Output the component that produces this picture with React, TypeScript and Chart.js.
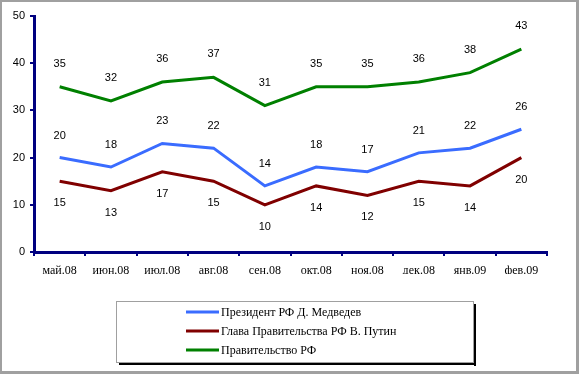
import React, { useEffect, useRef } from 'react';
import { Chart, registerables } from 'chart.js';
Chart.register(...registerables);

const categories = ['май.08', 'июн.08', 'июл.08', 'авг.08', 'сен.08', 'окт.08', 'ноя.08', 'дек.08', 'янв.09', 'фев.09'];
const president = [20, 18, 23, 22, 14, 18, 17, 21, 22, 26];
const putin = [15, 13, 17, 15, 10, 14, 12, 15, 14, 20];
const government = [35, 32, 36, 37, 31, 35, 35, 36, 38, 43];
const seriesLabels = ['Президент РФ Д. Медведев', 'Глава Правительства РФ В. Путин', 'Правительство РФ'];
const seriesColors = ['#3a6cff', '#800000', '#008000'];
const labelOffsets = [-22, 22, -23];
const yMin = 0;
const yMax = 50;
const yStep = 10;

export default function App() {
  const ref = useRef<HTMLCanvasElement>(null);
  useEffect(() => {
    if (!ref.current) return;
    const framePlugin = {
      id: 'frame',
      beforeDraw(chart: any) {
        const ctx = chart.ctx;
        ctx.save();
        ctx.fillStyle = '#ffffff';
        ctx.fillRect(0, 0, chart.width, chart.height);
        ctx.restore();
      },
      afterDraw(chart: any) {
        const ctx = chart.ctx;
        const W = chart.width, H = chart.height;
        ctx.save();
        ctx.fillStyle = '#a0a0a0';
        ctx.fillRect(0, 0, W, 2);
        ctx.fillRect(0, 0, 2, H);
        ctx.fillRect(W - 3, 0, 3, H);
        ctx.fillRect(0, H - 3, W, 3);
        const bx = 116, by = 301, bw = 357, bh = 61;
        ctx.fillStyle = '#000000';
        ctx.fillRect(bx + bw + 1, by + 3, 2, bh + 1);
        ctx.fillRect(bx + 3, by + bh + 1, bw, 2);
        ctx.strokeStyle = '#a0a0a0';
        ctx.lineWidth = 1;
        ctx.strokeRect(bx + 0.5, by + 0.5, bw, bh);
        chart.data.datasets.forEach((ds: any, i: number) => {
          const y = 312 + 19 * i;
          ctx.strokeStyle = ds.borderColor;
          ctx.lineWidth = 3;
          ctx.beginPath();
          ctx.moveTo(186, y);
          ctx.lineTo(219, y);
          ctx.stroke();
          ctx.fillStyle = '#000';
          ctx.font = '12px "Liberation Serif"';
          ctx.textAlign = 'left';
          ctx.textBaseline = 'middle';
          ctx.fillText(ds.label, 221, y + 1);
        });
        ctx.restore();
      },
    };
    const labelPlugin = {
      id: 'valueLabels',
      afterDatasetsDraw(chart: any) {
        const ctx = chart.ctx;
        ctx.save();
        ctx.font = '11px "Liberation Sans"';
        ctx.fillStyle = '#000';
        ctx.textAlign = 'center';
        ctx.textBaseline = 'middle';
        chart.data.datasets.forEach((ds: any, i: number) => {
          const meta = chart.getDatasetMeta(i);
          meta.data.forEach((p: any, j: number) => {
            ctx.fillText(String(ds.data[j]), p.x, p.y + labelOffsets[i]);
          });
        });
        ctx.restore();
      },
    };
    const series = [president, putin, government];
    const chart = new Chart(ref.current, {
      type: 'line',
      data: {
        labels: categories,
        datasets: series.map((d, i) => ({
          label: seriesLabels[i],
          data: d,
          borderColor: seriesColors[i],
          backgroundColor: seriesColors[i],
          borderWidth: 3,
          pointRadius: 0,
          tension: 0,
          fill: false,
        })),
      },
      options: {
        animation: false,
        responsive: false,
        devicePixelRatio: 1,
        layout: { padding: { top: 16, right: 32, bottom: 100, left: 0 } },
        plugins: { legend: { display: false }, tooltip: { enabled: false } },
        scales: {
          x: {
            type: 'category',
            offset: true,
            grid: { offset: true, drawOnChartArea: false, drawTicks: true, tickLength: 4, color: '#000080', lineWidth: 2 },
            border: { color: '#000080', width: 3 },
            ticks: { font: { family: 'Liberation Serif', size: 12 }, color: '#000', padding: 8, maxRotation: 0, autoSkip: false },
            afterFit(s: any) { s.height = 22; },
          },
          y: {
            min: yMin,
            max: yMax,
            ticks: { stepSize: yStep, font: { family: 'Liberation Sans', size: 11 }, color: '#000', padding: 5 },
            grid: { drawOnChartArea: false, drawTicks: true, tickLength: 4, color: '#000080', lineWidth: 2 },
            border: { color: '#000080', width: 3 },
            afterFit(s: any) { s.width = 34; },
          },
        },
      },
      plugins: [framePlugin, labelPlugin],
    } as any);
    return () => chart.destroy();
  }, []);
  return (
    <div style={{ position: 'absolute', left: 0, top: 0, width: 579, height: 374 }}>
      <canvas ref={ref} width={579} height={374} style={{ display: 'block' }} />
    </div>
  );
}
